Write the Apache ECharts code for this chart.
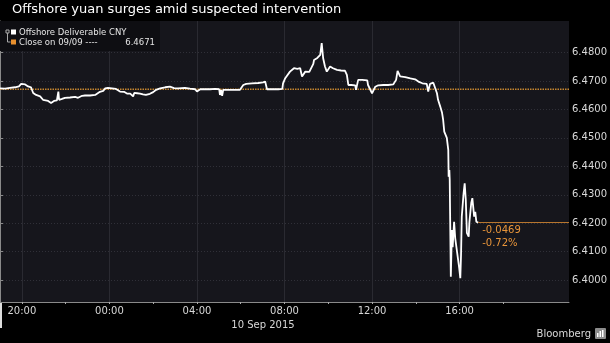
<!DOCTYPE html>
<html><head><meta charset="utf-8">
<script src="https://cdn.jsdelivr.net/npm/echarts@6/dist/echarts.min.js"></script>
<style>html,body{margin:0;padding:0;background:#000}#c{width:610px;height:343px}</style>
</head><body><div id="c"></div><script>
const titleText = 'Offshore yuan surges amid suspected intervention';
const seriesName = 'Offshore Deliverable CNY';
const closeLabel = 'Close on 09/09 ----';
const closeValue = 6.4671;
const changeLabel = '-0.0469';
const pctLabel = '-0.72%';
const dateLabel = '10 Sep 2015';
const sourceLabel = 'Bloomberg';
// hours after 19:00 on 9 Sep 2015
const xTickHours = [1, 5, 9, 13, 17, 21];
const xTickLabels = ['20:00', '00:00', '04:00', '08:00', '12:00', '16:00'];
const xMinorTickHours = [1, 3, 5, 7, 9, 11, 13, 15, 17, 19, 21, 23];
const xRangeHours = [0, 26];
const yTickValues = [6.40, 6.41, 6.42, 6.43, 6.44, 6.45, 6.46, 6.47, 6.48];
const yRange = [6.3923, 6.4911];
// minutes after 19:00 on 9 Sep 2015
const minutesFromStart = [0,14,27,41,52,58,62,69,77,85,91,99,110,118,123,132,140,148,156,160,162,170,178,192,206,214,225,233,247,261,274,283,288,296,307,318,329,340,348,357,365,368,376,384,392,400,411,420,428,439,453,466,477,488,507,521,535,540,549,562,576,590,601,603,606,609,612,625,645,658,667,675,691,708,721,727,732,746,763,774,776,782,787,795,806,815,823,828,837,848,853,859,861,870,872,878,882,886,891,896,905,913,924,935,946,951,955,963,974,976,982,993,1007,1009,1020,1029,1037,1051,1064,1078,1086,1090,1097,1111,1125,1138,1147,1158,1170,1174,1179,1188,1193,1198,1201,1207,1212,1215,1218,1225,1229,1230,1232,1233,1234,1236,1239,1241,1245,1248,1253,1256,1259,1262,1264,1266,1271,1274,1277,1280,1285,1287,1292,1295,1300,1303,1306,1311];
const cnyValues = [6.4674,6.4673,6.4676,6.4678,6.4681,6.4690,6.4694,6.4688,6.4681,6.4678,6.4658,6.4651,6.4646,6.4634,6.4627,6.4630,6.4623,6.4630,6.4632,6.4663,6.4634,6.4637,6.4641,6.4642,6.4644,6.4641,6.4648,6.4649,6.4649,6.4651,6.4662,6.4665,6.4674,6.4676,6.4674,6.4672,6.4663,6.4662,6.4656,6.4656,6.4646,6.4658,6.4657,6.4656,6.4653,6.4651,6.4655,6.4661,6.4669,6.4674,6.4678,6.4680,6.4675,6.4674,6.4676,6.4673,6.4671,6.4663,6.4671,6.4671,6.4671,6.4672,6.4671,6.4651,6.4669,6.4648,6.4669,6.4669,6.4669,6.4669,6.4686,6.4690,6.4692,6.4693,6.4695,6.4698,6.4671,6.4671,6.4671,6.4672,6.4692,6.4710,6.4716,6.4733,6.4745,6.4743,6.4745,6.4716,6.4733,6.4732,6.4728,6.4760,6.4774,6.4781,6.4786,6.4792,6.4833,6.4780,6.4751,6.4733,6.4751,6.4745,6.4739,6.4737,6.4736,6.4722,6.4686,6.4686,6.4685,6.4669,6.4704,6.4704,6.4702,6.4686,6.4657,6.4680,6.4685,6.4686,6.4686,6.4688,6.4704,6.4736,6.4716,6.4714,6.4709,6.4706,6.4698,6.4692,6.4690,6.4663,6.4690,6.4694,6.4693,6.4657,6.4634,6.4610,6.4588,6.4563,6.4522,6.4500,6.4458,6.4363,6.4387,6.4352,6.4236,6.4012,6.4176,6.4116,6.4205,6.4148,6.4100,6.4099,6.4042,6.4007,6.4088,6.4223,6.4305,6.4340,6.4282,6.4166,6.4153,6.4205,6.4271,6.4288,6.4223,6.4240,6.4205,6.4202];

const FONT = 'DejaVu Sans';
const data = minutesFromStart.map((m, i) => [m / 60, cnyValues[i]]);
const lastPoint = data[data.length - 1];
const xMax = xRangeHours[1];

const chart = echarts.init(document.getElementById('c'), null, {renderer: 'canvas'});
chart.setOption({
  animation: false,
  backgroundColor: '#000',
  grid: {left: 0, right: 41, top: 21, bottom: 41, show: true, backgroundColor: '#16161c', borderWidth: 0},
  xAxis: [{
    type: 'value', min: xRangeHours[0], max: xMax,
    position: 'bottom',
    axisLine: {show: true, lineStyle: {color: '#8a8a8a', width: 1}},
    axisTick: {show: false, customValues: xTickHours},
    axisLabel: {
      customValues: xTickHours, color: '#d8d8d8', fontFamily: FONT, fontSize: 10, margin: 4,
      formatter: v => { const i = xTickHours.indexOf(v); return i >= 0 ? xTickLabels[i] : ''; }
    },
    splitLine: {show: true, lineStyle: {color: '#2a2a31', width: 1}}
  }, {
    type: 'value', min: xRangeHours[0], max: xMax, position: 'bottom',
    axisLine: {show: false},
    axisTick: {show: true, length: 2, customValues: xMinorTickHours, lineStyle: {color: '#aaa'}},
    axisLabel: {show: false, customValues: xMinorTickHours},
    splitLine: {show: false}
  }],
  yAxis: {
    type: 'value', position: 'right', min: yRange[0], max: yRange[1],
    axisLine: {show: true, lineStyle: {color: '#8a8a8a', width: 1}},
    axisTick: {show: true, length: 3, customValues: yTickValues, lineStyle: {color: '#8a8a8a'}},
    axisLabel: {customValues: yTickValues, color: '#d8d8d8', fontFamily: FONT, fontSize: 10, margin: 3,
      formatter: v => v.toFixed(4)},
    splitLine: {show: true, lineStyle: {color: '#303038', width: 1, type: [1, 2]}}
  },
  series: [{
    type: 'line', name: closeLabel, data: [[xRangeHours[0], closeValue], [xMax, closeValue]],
    showSymbol: false, symbol: 'none', silent: true,
    lineStyle: {color: '#c4852f', width: 1.5, type: [1.5, 1]},
    z: 2
  }, {
    type: 'line', name: seriesName, data: data, xAxisIndex: 0,
    showSymbol: false, symbol: 'none',
    lineStyle: {color: '#ffffff', width: 1.8},
    z: 3,
    markLine: {
      silent: true, symbol: ['none', 'none'], animation: false, precision: 4,
      data: [
        [{coord: lastPoint, lineStyle: {color: '#b8762e', width: 1, type: 'solid'},
          label: {show: true, position: 'insideStartBottom', formatter: changeLabel + '\n' + pctLabel,
            color: '#e8953a', fontFamily: FONT, fontSize: 10, lineHeight: 12.5, distance: [4, 2]}},
         {coord: [xMax, lastPoint[1]]}]
      ]
    }
  }],
  graphic: [
    {type: 'text', left: 12, top: 3, style: {text: titleText, fill: '#ffffff', font: '13px "DejaVu Sans"'}},
    {type: 'rect', shape: {x: 0, y: 21, width: 160, height: 30}, style: {fill: '#0e0e12'}, z: 1},
    {type: 'rect', shape: {x: 6, y: 30, width: 3, height: 3}, style: {fill: 'none', stroke: '#aaa', lineWidth: 1}, z: 2},
    {type: 'polyline', shape: {points: [[7.5, 33], [7.5, 42], [10.5, 42]]}, style: {stroke: '#aaa', lineWidth: 1, fill: 'none'}, z: 2},
    {type: 'rect', shape: {x: 11, y: 29.5, width: 5, height: 5}, style: {fill: '#ffffff'}, z: 2},
    {type: 'rect', shape: {x: 11, y: 39.5, width: 5, height: 5}, style: {fill: '#e8902e'}, z: 2},
    {type: 'text', x: 19, y: 32.5, style: {text: seriesName, fill: '#e4e4e4', font: '8.5px "DejaVu Sans"', verticalAlign: 'middle'}, z: 2},
    {type: 'text', x: 19, y: 42.5, style: {text: closeLabel, fill: '#e4e4e4', font: '8.5px "DejaVu Sans"', verticalAlign: 'middle'}, z: 2},
    {type: 'text', x: 155, y: 42.5, style: {text: closeValue.toFixed(4), fill: '#e4e4e4', font: '8.5px "DejaVu Sans"', verticalAlign: 'middle', align: 'right'}, z: 2},
    {type: 'text', x: 263, y: 325, style: {text: dateLabel, fill: '#d8d8d8', font: '10px "DejaVu Sans"', verticalAlign: 'middle', align: 'center'}},
    {type: 'text', x: 591, y: 334, style: {text: sourceLabel, fill: '#d8d8d8', font: '10px "DejaVu Sans"', verticalAlign: 'middle', align: 'right'}},
    {type: 'rect', shape: {x: 595, y: 328, width: 11, height: 11, r: 1}, style: {fill: '#8c8c8c'}},
    {type: 'rect', shape: {x: 597, y: 333, width: 1.5, height: 4}, style: {fill: '#fff'}},
    {type: 'rect', shape: {x: 599.5, y: 331, width: 1.5, height: 6}, style: {fill: '#fff'}},
    {type: 'rect', shape: {x: 602, y: 330, width: 1.5, height: 7}, style: {fill: '#fff'}},
    {type: 'line', shape: {x1: 1, y1: 302, x2: 1, y2: 328}, style: {stroke: '#dddddd', lineWidth: 2}}
  ]
});
</script></body></html>
